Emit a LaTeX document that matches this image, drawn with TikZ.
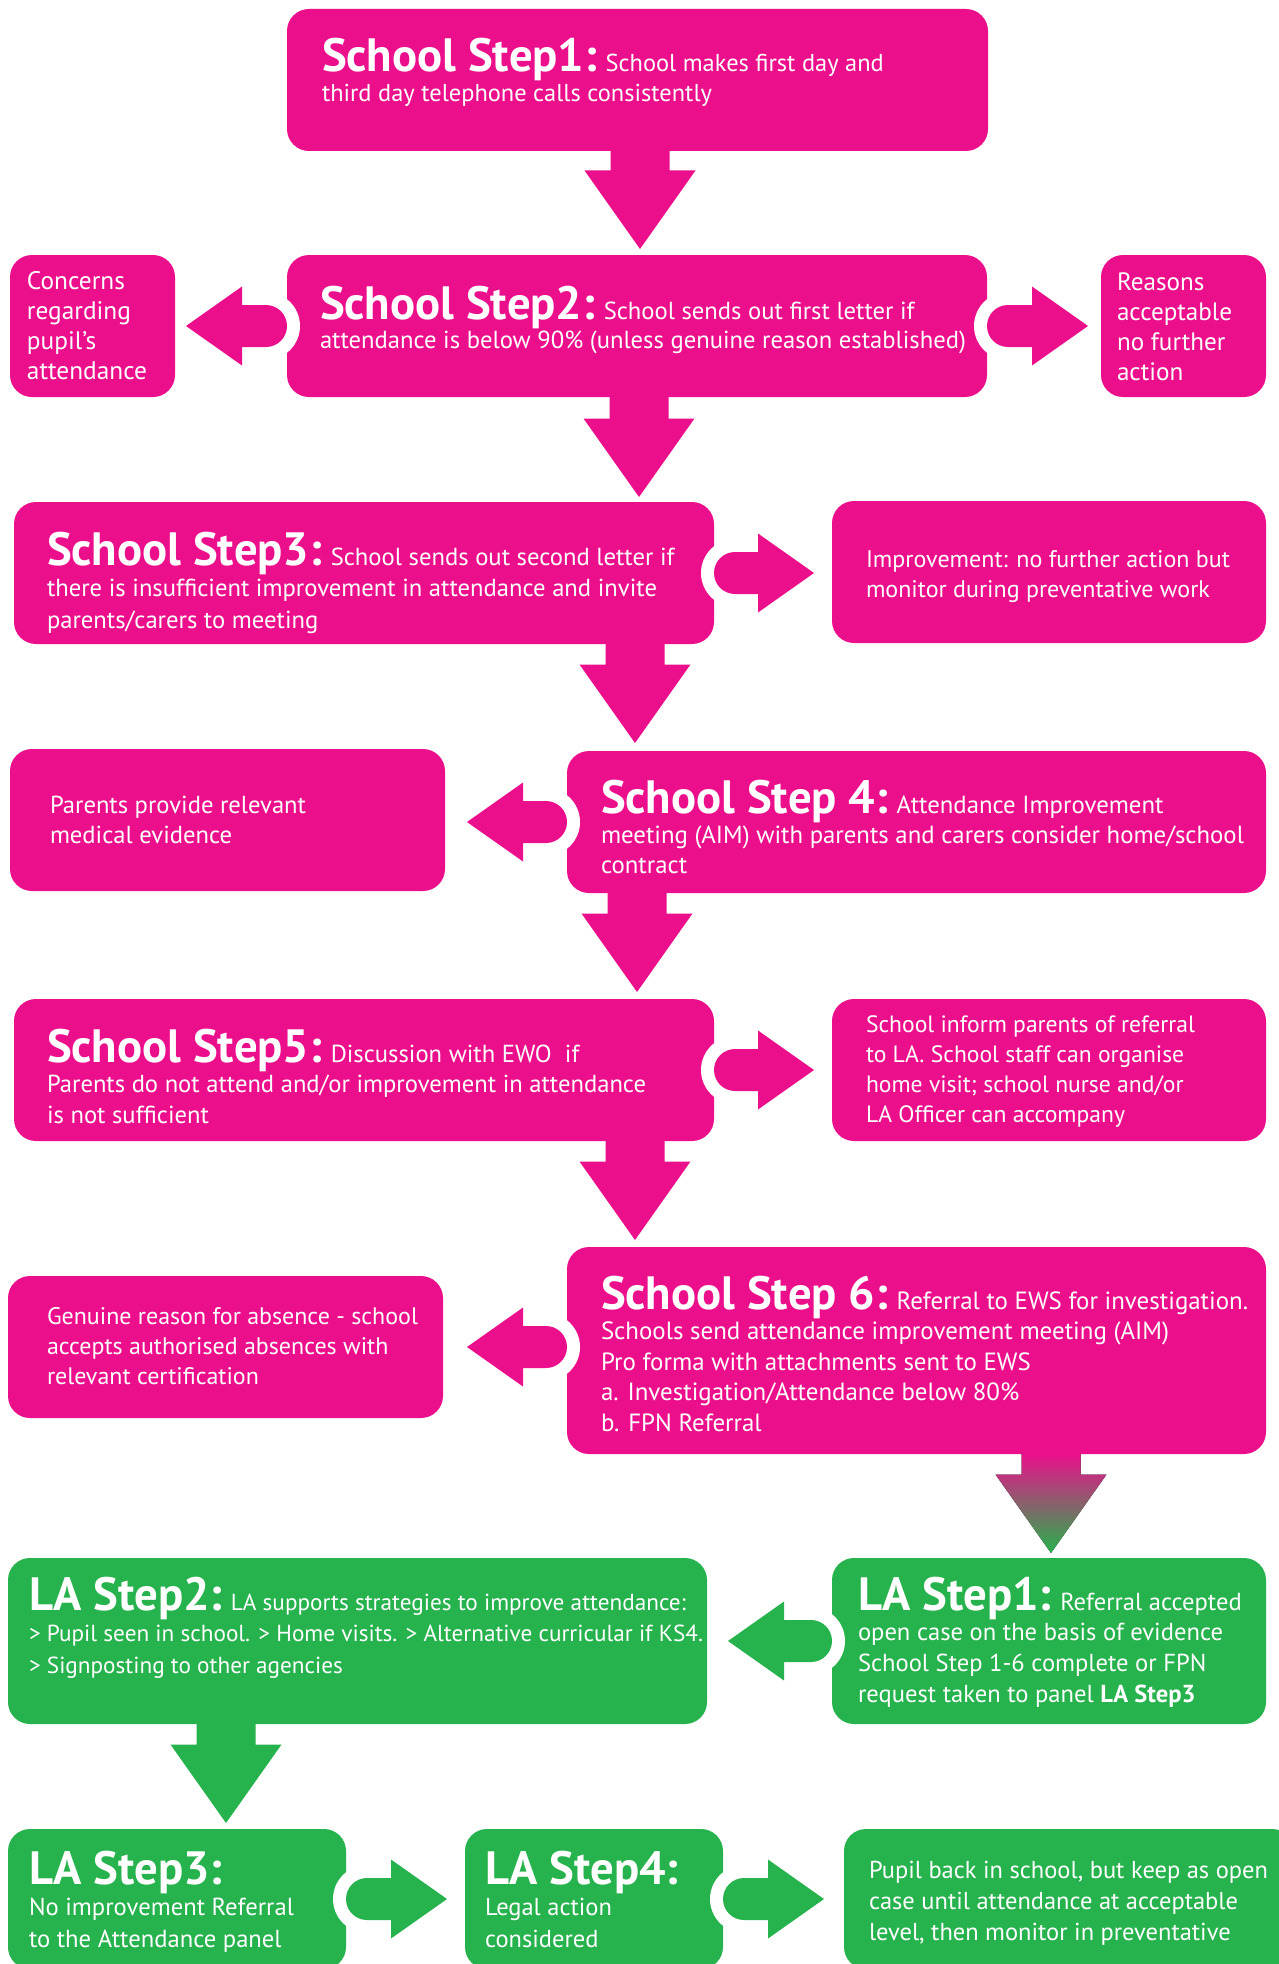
\documentclass[tikz,border=0pt]{standalone}
\usepackage{fontspec}
\setmainfont{PT Sans}
\usetikzlibrary{calc}
\definecolor{pk}{HTML}{EC0F8C}
\definecolor{gr}{HTML}{26B24C}
\newlength\fitw
\newcommand\fitfont[3]{%
  \settowidth\fitw{\fontsize{10}{12}\selectfont #3}%
  \pgfmathsetmacro\fitsz{10*#1/\fitw}%
  \fontsize{\fitsz}{#2}\selectfont}
\newcommand\ttl[1]{{\settowidth\fitw{\fontsize{10}{12}\selectfont\bfseries School Step1:}%
  \pgfmathsetmacro\fitsz{10*275/\fitw}\fontsize{\fitsz}{\fitsz}\selectfont\bfseries #1}}
% down arrow: #1 start, #2 tip, #3 fill options
\newcommand\darr[3]{%
  \fill[#3] ($(#1)+(-29.5,-1)$) -- ($(#2)+(-29.5,-78.5)$) -- ($(#2)+(-55.5,-78.5)$) -- (#2)
    -- ($(#2)+(55.5,-78.5)$) -- ($(#2)+(29.5,-78.5)$) -- ($(#1)+(29.5,-1)$) -- cycle;}
% right arrow: #1 tail (box edge), #2 tip, #3 colour
\newcommand\rarr[3]{%
  \fill[white] ($(#1)+(21,0)$) circle[radius=34];
  \fill[#3] ($(#1)+(21,0)$) circle[radius=21];
  \fill[#3] ($(#1)+(21,-21)$) -- ($(#2)+(-56,-21)$) -- ($(#2)+(-56,-39.5)$) -- (#2)
    -- ($(#2)+(-56,39.5)$) -- ($(#2)+(-56,21)$) -- ($(#1)+(21,21)$) -- cycle;}
% left arrow
\newcommand\larr[3]{%
  \fill[white] ($(#1)+(-21,0)$) circle[radius=34];
  \fill[#3] ($(#1)+(-21,0)$) circle[radius=21];
  \fill[#3] ($(#1)+(-21,-21)$) -- ($(#2)+(56,-21)$) -- ($(#2)+(56,-39.5)$) -- (#2)
    -- ($(#2)+(56,39.5)$) -- ($(#2)+(56,21)$) -- ($(#1)+(-21,21)$) -- cycle;}
\begin{document}
\begin{tikzpicture}[x=1pt,y=-1pt,
  box/.style={rectangle, rounded corners=22pt, inner sep=0pt, outer sep=0pt, anchor=north west},
  pbox/.style={box, fill=pk},
  gbox/.style={box, fill=gr},
  txt/.style={anchor=base west, inner sep=0pt, outer sep=0pt, text=white}]
\clip (0,0) rectangle (1279,1964);
\fill[white] (0,0) rectangle (1279,1964);

% ---------- boxes ----------
\node[pbox, minimum width=701pt, minimum height=142pt] (s1) at (287,9) {};
\node[pbox, minimum width=700pt, minimum height=142pt] (s2) at (287,255) {};
\node[pbox, minimum width=165pt, minimum height=142pt] (l2) at (10,255) {};
\node[pbox, minimum width=165pt, minimum height=142pt] (r2) at (1101,255) {};
\node[pbox, minimum width=700pt, minimum height=142pt] (s3) at (14,502) {};
\node[pbox, minimum width=434pt, minimum height=142pt] (r3) at (832,501) {};
\node[pbox, minimum width=435pt, minimum height=142pt] (l4) at (10,749) {};
\node[pbox, minimum width=699pt, minimum height=142pt] (s4) at (567,751) {};
\node[pbox, minimum width=700pt, minimum height=142pt] (s5) at (14,999) {};
\node[pbox, minimum width=434pt, minimum height=142pt] (r5) at (832,999) {};
\node[pbox, minimum width=435pt, minimum height=142pt] (l6) at (8,1276) {};
\node[pbox, minimum width=699pt, minimum height=207pt] (s6) at (567,1247) {};
\node[gbox, minimum width=699pt, minimum height=166pt] (la2) at (8,1558) {};
\node[gbox, minimum width=434pt, minimum height=166pt] (la1) at (832,1558) {};
\node[gbox, minimum width=338pt, minimum height=140pt] (la3) at (8,1829) {};
\node[gbox, minimum width=258pt, minimum height=140pt] (la4) at (465,1829) {};
\node[gbox, minimum width=450pt, minimum height=140pt] (la5) at (844,1829) {};

% ---------- down arrows ----------
\coordinate (c1) at (640,0);
\coordinate (c2) at (639,0);
\coordinate (c3) at (635,0);
\coordinate (c4) at (637,0);
\coordinate (c6) at (1051,0);
\coordinate (c7) at (226,0);
\coordinate (d1a) at (s1.south -| c1); \coordinate (d1b) at ($(s2.north -| c1)+(0,-6)$);
\coordinate (d2a) at (s2.south -| c2); \coordinate (d2b) at ($(s3.north -| c2)+(0,-5)$);
\coordinate (d3a) at (s3.south -| c3); \coordinate (d3b) at ($(s4.north -| c3)+(0,-8)$);
\coordinate (d4a) at (s4.south -| c4); \coordinate (d4b) at ($(s5.north -| c4)+(0,-7)$);
\coordinate (d5a) at (s5.south -| c3); \coordinate (d5b) at ($(s6.north -| c3)+(0,-7)$);
\coordinate (d6a) at (s6.south -| c6); \coordinate (d6b) at ($(la1.north -| c6)+(0,-5)$);
\coordinate (d7a) at (la2.south -| c7); \coordinate (d7b) at ($(la3.north -| c7)+(0,-6)$);
\darr{d1a}{d1b}{pk}
\darr{d2a}{d2b}{pk}
\darr{d3a}{d3b}{pk}
\darr{d4a}{d4b}{pk}
\darr{d5a}{d5b}{pk}
\darr{d6a}{d6b}{top color=pk, bottom color=gr, shading=axis}
\darr{d7a}{d7b}{gr}

% ---------- side arrows ----------
\coordinate (ha) at (s2.east);  \coordinate (hat) at ($(r2.west |- ha)+(-13,0)$);
\coordinate (hb) at (s3.east);  \coordinate (hbt) at ($(r3.west |- hb)+(-18,0)$);
\coordinate (hc) at (s5.east);  \coordinate (hct) at ($(r5.west |- hc)+(-18,0)$);
\coordinate (hd) at (la3.east); \coordinate (hdt) at ($(la4.west |- hd)+(-18,0)$);
\coordinate (he) at (la4.east); \coordinate (het) at ($(la5.west |- he)+(-20,0)$);
\coordinate (hf) at (s2.west);  \coordinate (hft) at ($(l2.east |- hf)+(11,0)$);
\coordinate (hg) at (s4.west);  \coordinate (hgt) at ($(l4.east |- hg)+(22,0)$);
\coordinate (hh) at (s6.west |- l6.east); \coordinate (hht) at ($(l6.east)+(24,0)$);
\coordinate (hi) at (la1.west); \coordinate (hit) at ($(la2.east |- hi)+(21,0)$);
\rarr{ha}{hat}{pk}
\rarr{hb}{hbt}{pk}
\rarr{hc}{hct}{pk}
\rarr{hd}{hdt}{gr}
\rarr{he}{het}{gr}
\larr{hf}{hft}{pk}
\larr{hg}{hgt}{pk}
\larr{hh}{hht}{pk}
\larr{hi}{hit}{gr}

% ---------- texts ----------
\node[txt] (t1) at (322,72) {\vtop{\fitfont{390}{30}{third day telephone calls consistently}%
  \hbox{\ttl{School Step1:} School makes first day and}%
  \hbox{third day telephone calls consistently}}};
\node[txt] (t2) at (320,319) {\vtop{\fitfont{646}{29.5}{attendance is below 90\% (unless genuine reason established)}%
  \hbox{\ttl{School Step2:} School sends out first letter if}%
  \hbox{attendance is below 90\% (unless genuine reason established)}}};
\node[txt] (tl2) at (27,289) {\vtop{\fitfont{120}{30}{attendance}%
  \hbox{Concerns}\hbox{regarding}\hbox{pupil’s}\hbox{attendance}}};
\node[txt] (tr2) at (1117,290) {\vtop{\fitfont{115}{30}{acceptable}%
  \hbox{Reasons}\hbox{acceptable}\hbox{no further}\hbox{action}}};
\node[txt] (t3) at (47,565) {\vtop{\fitfont{610}{31.5}{there is insufficient improvement in attendance and invite}%
  \hbox{\ttl{School Step3:} School sends out second letter if}%
  \hbox{there is insufficient improvement in attendance and invite}%
  \hbox{parents/carers to meeting}}};
\node[txt] (tr3) at (866,567) {\vtop{\fitfont{364}{30}{Improvement: no further action but}%
  \hbox{Improvement: no further action but}\hbox{monitor during preventative work}}};
\node[txt] (tl4) at (50,813) {\vtop{\fitfont{256}{30}{Parents provide relevant}%
  \hbox{Parents provide relevant}\hbox{medical evidence}}};
\node[txt] (t4) at (601,813) {\vtop{\fitfont{643}{30}{meeting (AIM) with parents and carers consider home/school}%
  \hbox{\ttl{School Step 4:} Attendance Improvement}%
  \hbox{meeting (AIM) with parents and carers consider home/school}%
  \hbox{contract}}};
\node[txt] (t5) at (47,1062) {\vtop{\fitfont{599}{30.5}{Parents do not attend and/or improvement in attendance}%
  \hbox{\ttl{School Step5:} Discussion with EWO~ if}%
  \hbox{Parents do not attend and/or improvement in attendance}%
  \hbox{is not sufficient}}};
\node[txt] (tr5) at (866,1032) {\vtop{\fitfont{329}{30.3}{School inform parents of referral}%
  \hbox{School inform parents of referral}\hbox{to LA. School staff can organise}%
  \hbox{home visit; school nurse and/or}\hbox{LA Officer can accompany}}};
\node[txt] (tl6) at (47,1324) {\vtop{\fitfont{371}{30}{Genuine reason for absence - school}%
  \hbox{Genuine reason for absence - school}\hbox{accepts authorised absences with}%
  \hbox{relevant certification}}};
\node[txt] (t6) at (601,1309) {\vtop{\fitfont{568}{30.5}{Schools send attendance improvement meeting (AIM)}%
  \hbox{\ttl{School Step 6:} Referral to EWS for investigation.}%
  \hbox{Schools send attendance improvement meeting (AIM)}%
  \hbox{Pro forma with attachments sent to EWS}%
  \hbox{a. Investigation/Attendance below 80\%}%
  \hbox{b. FPN Referral}}};
\node[txt] (tla2) at (29,1610) {\vtop{\fitfont{674}{31.5}{> Pupil seen in school. > Home visits. > Alternative curricular if KS4.}%
  \hbox{\ttl{LA Step2:} LA supports strategies to improve attendance:}%
  \hbox{> Pupil seen in school. > Home visits. > Alternative curricular if KS4.}%
  \hbox{> Signposting to other agencies}}};
\node[txt] (tla1) at (858,1610) {\vtop{\fitfont{365}{30.7}{open case on the basis of evidence}%
  \hbox{\ttl{LA Step1:} Referral accepted}%
  \hbox{open case on the basis of evidence}%
  \hbox{School Step 1-6 complete or FPN}%
  \hbox{request taken to panel \textbf{LA Step3}}}};
\node[txt] (tla3) at (29,1884) {\vtop{\fitfont{265}{31.5}{No improvement Referral}%
  \hbox{\ttl{LA Step3:}}\hbox{No improvement Referral}\hbox{to the Attendance panel}}};
\node[txt] (tla4) at (485,1884) {\vtop{\fitfont{127}{31.5}{Legal action}%
  \hbox{\ttl{LA Step4:}}\hbox{Legal action}\hbox{considered}}};
\node[txt] (tla5) at (869,1878) {\vtop{\fitfont{399}{31}{Pupil back in school, but keep as open}%
  \hbox{Pupil back in school, but keep as open}\hbox{case until attendance at acceptable}%
  \hbox{level, then monitor in preventative}}};
\end{tikzpicture}
\end{document}
